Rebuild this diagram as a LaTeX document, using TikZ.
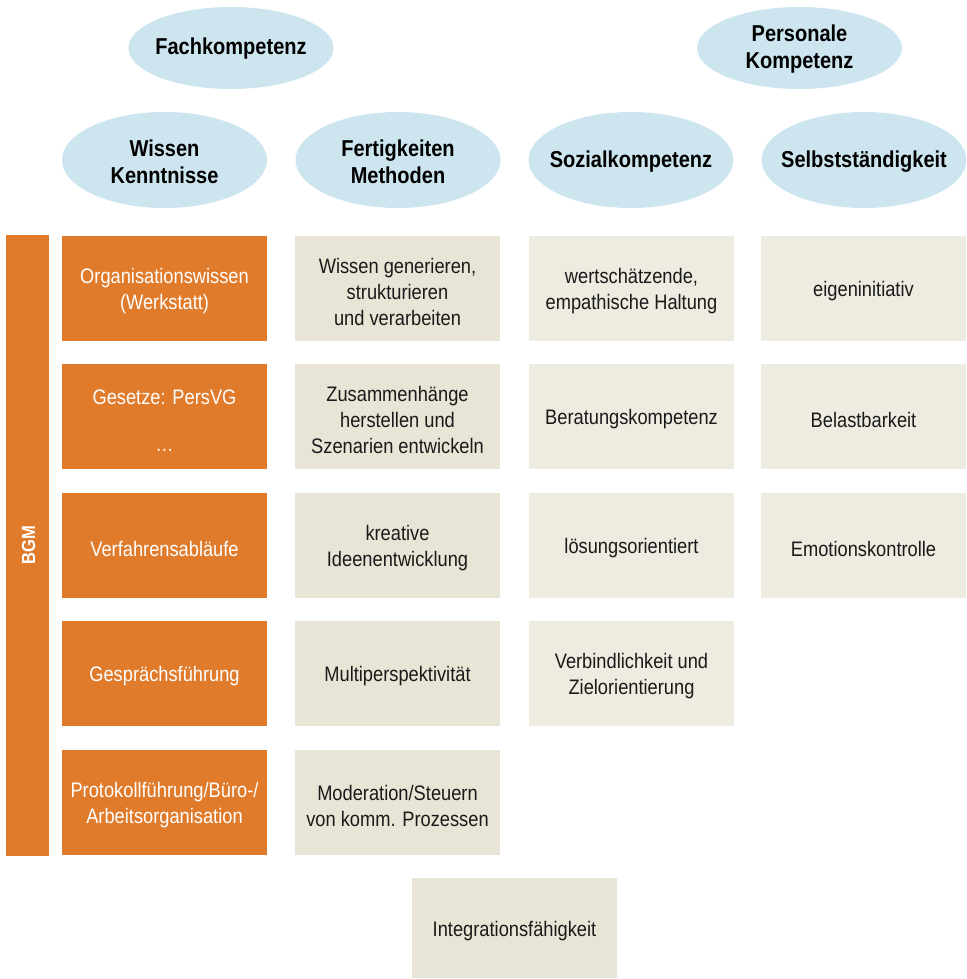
\documentclass[tikz,border=0pt]{standalone}
\usepackage{fontspec}
\setmainfont{Liberation Sans}[FakeStretch=0.87]
\usetikzlibrary{shapes.geometric}
\definecolor{ellblue}{HTML}{CDE5EE}
\definecolor{orng}{HTML}{E07B2C}
\definecolor{beigeA}{HTML}{E8E5D6}
\definecolor{beigeB}{HTML}{EEEBE1}
\definecolor{txt}{HTML}{1A1A1A}
\tikzset{
  hd/.style={ellipse, fill=ellblue, draw=none, minimum width=205pt, minimum height=96pt, inner sep=0pt},
  hdtop/.style={hd, minimum height=82pt},
  hdtxt/.style={inner sep=0pt, align=center, text=black, font=\fontsize{23}{27}\selectfont\bfseries},
  cell/.style={rectangle, draw=none, minimum width=205pt, minimum height=105pt, inner sep=0pt},
  celltxt/.style={inner sep=0pt, align=center, font=\fontsize{21}{26}\selectfont},
  ocell/.style={cell, fill=orng},
  bcellA/.style={cell, fill=beigeA},
  bcellB/.style={cell, fill=beigeB},
  otxt/.style={celltxt, text=white},
  btxt/.style={celltxt, text=txt},
}
\begin{document}
\begin{tikzpicture}[x=1pt,y=1pt]
\useasboundingbox (0,0) rectangle (966,-979);
% ellipses
\node[hdtop] (fach) at (231,-48) {};
\node[hdtxt] (fachT) at ([yshift=-1pt]fach.center) {Fachkompetenz};
\node[hdtop] (pers) at (799.5,-48) {};
\node[hdtxt] (persT) at ([yshift=-1pt]pers.center) {Personale\\Kompetenz};
\node[hd] (wiss) at (164.5,-160) {};
\node[hdtxt] (wissT) at ([yshift=-2pt]wiss.center) {Wissen\\Kenntnisse};
\node[hd] (fert) at (398,-160) {};
\node[hdtxt] (fertT) at ([yshift=-2pt]fert.center) {Fertigkeiten\\Methoden};
\node[hd] (soz) at (631,-160) {};
\node[hdtxt] (sozT) at ([yshift=-2pt]soz.center) {Sozialkompetenz};
\node[hd] (selb) at (864,-160) {};
\node[hdtxt] (selbT) at ([yshift=-2pt]selb.center) {Selbstständigkeit};
% BGM bar
\node[rectangle, fill=orng, minimum width=43pt, minimum height=621pt, inner sep=0pt] (bgm) at (27.5,-545.5) {};
\node[rotate=90, text=white, font=\fontsize{19}{22}\selectfont\bfseries] (bgmtxt) at ([xshift=1pt]bgm.center) {BGM};
% column 1
\node[ocell] (o1) at (164.5,-288.5) {};
\node[otxt] (o1T) at ([yshift=-3pt]o1.center) {Organisationswissen\\(Werkstatt)};
\node[ocell] (o2) at (164.5,-416.5) {};
\node[otxt] (o2T) at ([yshift=-4pt]o2.center) {Gesetze: PersVG\\[21pt]\ldots};
\node[ocell] (o3) at (164.5,-545.5) {};
\node[otxt] (o3T) at ([yshift=-3pt]o3.center) {Verfahrensabläufe};
\node[ocell] (o4) at (164.5,-673.5) {};
\node[otxt] (o4T) at ([yshift=-3pt]o4.center) {Gesprächsführung};
\node[ocell] (o5) at (164.5,-802.5) {};
\node[otxt] (o5T) at ([yshift=-3pt]o5.center) {Protokollführung/Büro-/\\Arbeitsorganisation};
% column 2
\node[bcellA] (f1) at (397.5,-288.5) {};
\node[btxt] (f1T) at ([yshift=-3pt]f1.center) {Wissen generieren,\\strukturieren\\und verarbeiten};
\node[bcellA] (f2) at (397.5,-416.5) {};
\node[btxt] (f2T) at ([yshift=-3pt]f2.center) {Zusammenhänge\\herstellen und\\Szenarien entwickeln};
\node[bcellA] (f3) at (397.5,-545.5) {};
\node[btxt] (f3T) at ([yshift=-3pt]f3.center) {kreative\\Ideenentwicklung};
\node[bcellA] (f4) at (397.5,-673.5) {};
\node[btxt] (f4T) at ([yshift=-3pt]f4.center) {Multiperspektivität};
\node[bcellA] (f5) at (397.5,-802.5) {};
\node[btxt] (f5T) at ([yshift=-3pt]f5.center) {Moderation/Steuern\\von komm. Prozessen};
% column 3
\node[bcellB] (s1) at (631.5,-288.5) {};
\node[btxt] (s1T) at ([yshift=-3pt]s1.center) {wertschätzende,\\empathische Haltung};
\node[bcellB] (s2) at (631.5,-416.5) {};
\node[btxt] (s2T) at ([yshift=-3pt]s2.center) {Beratungskompetenz};
\node[bcellB] (s3) at (631.5,-545.5) {};
\node[btxt] (s3T) at ([yshift=-3pt]s3.center) {lösungsorientiert};
\node[bcellB] (s4) at (631.5,-673.5) {};
\node[btxt] (s4T) at ([yshift=-3pt]s4.center) {Verbindlichkeit und\\Zielorientierung};
% column 4
\node[bcellB] (p1) at (863.5,-288.5) {};
\node[btxt] (p1T) at ([yshift=-3pt]p1.center) {eigeninitiativ};
\node[bcellB] (p2) at (863.5,-416.5) {};
\node[btxt] (p2T) at ([yshift=-3pt]p2.center) {Belastbarkeit};
\node[bcellB] (p3) at (863.5,-545.5) {};
\node[btxt] (p3T) at ([yshift=-3pt]p3.center) {Emotionskontrolle};
% bottom
\node[bcellA, minimum height=100pt] (integ) at (514.5,-928) {};
\node[btxt] (integT) at ([yshift=-3pt]integ.center) {Integrationsfähigkeit};
\end{tikzpicture}
\end{document}
